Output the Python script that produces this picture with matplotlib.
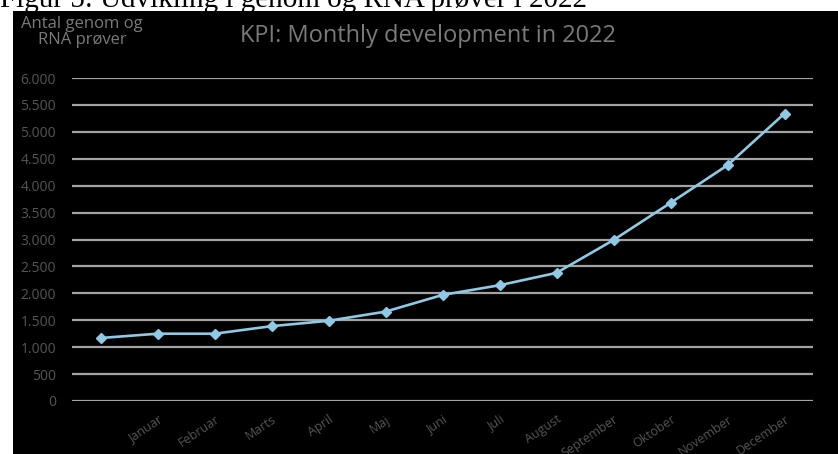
import matplotlib
matplotlib.use("Agg")
import matplotlib.pyplot as plt
from matplotlib.patches import Rectangle
from matplotlib.ticker import FuncFormatter

categories = ["", "Januar", "Februar", "Marts", "April", "Maj", "Juni", "Juli",
              "August", "September", "Oktober", "November", "December"]
values = [1170, 1250, 1250, 1390, 1490, 1660, 1970, 2150, 2380, 2990, 3680, 4380, 5340]
y_ticks = list(range(0, 6001, 500))

W, H = 838, 454
fig = plt.figure(figsize=(W / 100, H / 100), dpi=100, facecolor="white")

# black chart background
bg = Rectangle((13 / W, 0), 1 - 13 / W, 1 - 11 / H, transform=fig.transFigure,
               facecolor="black", edgecolor="none", zorder=-10)
fig.add_artist(bg)

# cropped caption above the chart
fig.text(0.0, 1 - 7 / H, "Figur 5: Udvikling i genom og RNA prøver i 2022",
         family="Liberation Serif", fontsize=21, color="black", ha="left", va="baseline",
         zorder=-5)

ax = fig.add_axes([72 / W, 1 - 401 / H, (813 - 72) / W, (401 - 78) / H])
ax.set_facecolor("none")
x = list(range(len(categories)))
ax.plot(x, values, color="#8ecae6", lw=1.9, marker="D", ms=4.8,
        markerfacecolor="#8ecae6", markeredgecolor="#8ecae6", zorder=3)

ax.set_xlim(-0.5, len(categories) - 0.5)
ax.set_ylim(0, 6000)
ax.set_yticks(y_ticks)
ax.yaxis.set_major_formatter(FuncFormatter(lambda v, p: f"{int(v):,}".replace(",", ".")))
ax.grid(axis="y", color="#a3a3a3", lw=1.6, zorder=1)
ax.set_axisbelow(True)
for s in ax.spines.values():
    s.set_visible(False)

ax.set_xticks(x)
ax.set_xticklabels(categories, rotation=34, ha="right", rotation_mode="anchor",
                   family="Open Sans", fontsize=9, color="#555555")
ax.tick_params(axis="x", length=0, pad=8.5)
ax.tick_params(axis="y", length=0, pad=11.5, labelsize=10, labelcolor="#555555")
for lab in ax.get_yticklabels():
    lab.set_family("Open Sans")

fig.text(428 / W, 1 - 36 / H, "KPI: Monthly development in 2022", family="Open Sans",
         fontsize=17, color="#7a7a7a", ha="center", va="center")
fig.text(82 / W, 1 - 32 / H, "Antal genom og\nRNA prøver", family="Open Sans",
         fontsize=12, color="#7a7a7a", ha="center", va="center", linespacing=1.0)

fig.savefig("out.png", dpi=100, facecolor="white")
